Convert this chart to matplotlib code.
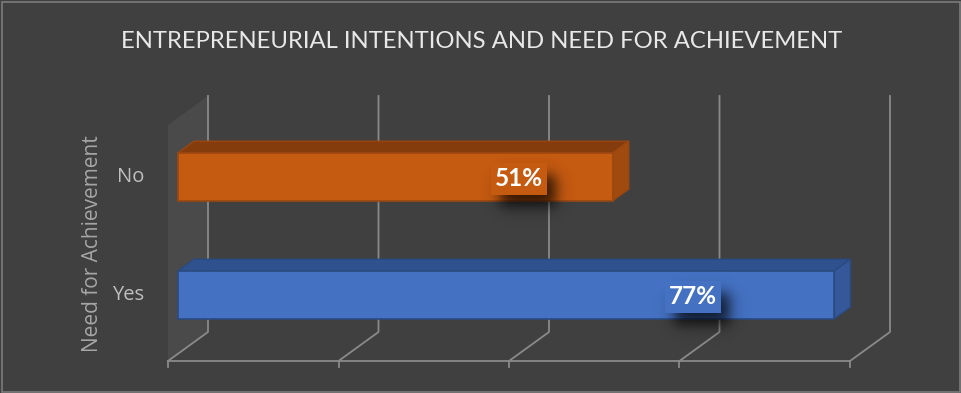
import numpy as np
import matplotlib.pyplot as plt
from matplotlib.patches import Polygon, Rectangle

categories = ['Yes', 'No']
shares = [0.77, 0.51]
label_text = ['77%', '51%']
tick_values = [0.0, 0.2, 0.4, 0.6, 0.8]
title = 'ENTREPRENEURIAL INTENTIONS AND NEED FOR ACHIEVEMENT'
axis_label = 'Need for Achievement'

BG = '#404040'
GRID = '#8a8a8a'
faces = {
    'Yes': dict(front='#4471c2', top='#2f528f', side='#34589a', edge='#2a4a80'),
    'No': dict(front='#c55a11', top='#843c0c', side='#a14a0f', edge='#9a4710'),
}

W, H = 962, 393
fig = plt.figure(figsize=(W / 100, H / 100), dpi=100, facecolor=BG)
fig.patches.append(Rectangle((1.5 / W, 1.5 / H), (W - 3) / W, (H - 3) / H,
                             transform=fig.transFigure, fill=False,
                             edgecolor='#7b7b7b', lw=1.2))

# plot box = front edge of the floor (x) and back wall height (y), in pixels
ax = fig.add_axes([168 / W, 32 / H, 682 / W, 266 / H])
ax.set_xlim(0, 0.8)
ax.set_ylim(0, 1)
ax.axis('off')
PX = 0.8 / 682   # data units per pixel, x
PY = 1 / 266     # data units per pixel, y

# 3D look: depth d in [0, 1] shifts points right and up
DX = 40 * PX
DY = 29 * PY
WALL_H = 236 * PY


def proj(x, y, d):
    return (x + d * DX, y + d * DY)


def poly(pts, **kw):
    p = Polygon(pts, closed=True, clip_on=False, **kw)
    ax.add_patch(p)
    return p


# left side wall
poly([proj(0, 0, 0), proj(0, WALL_H, 0), proj(0, WALL_H, 1), proj(0, 0, 1)],
     facecolor='#4b4a4a', edgecolor='none', zorder=1)

# gridlines on back wall and floor, ticks on the front edge
for v in tick_values:
    xs, ys = zip(proj(v, 0, 0), proj(v, 0, 1), proj(v, WALL_H, 1))
    ax.plot(xs, ys, color=GRID, lw=1.3, clip_on=False, zorder=2)
    ax.plot([v, v], [0, -6 * PY], color=GRID, lw=1.3, clip_on=False, zorder=2)
ax.plot([0, 0.8], [0, 0], color=GRID, lw=1.3, clip_on=False, zorder=2)


def soft_shadow(cx, cy, wpx, hpx, blur, z):
    # blurred dark box (sizes in pixels) behind a data label
    pad = 3 * blur
    gx = np.linspace(-(wpx / 2 + pad), wpx / 2 + pad, 120)
    gy = np.linspace(-(hpx / 2 + pad), hpx / 2 + pad, 80)
    fx = 1 / (1 + np.exp((np.abs(gx) - wpx / 2) / (blur / 1.7)))
    fy = 1 / (1 + np.exp((np.abs(gy) - hpx / 2) / (blur / 1.7)))
    img = np.zeros((len(gy), len(gx), 4))
    img[..., 3] = np.outer(fy, fx) * 0.75
    ax.imshow(img, extent=(cx - (wpx / 2 + pad) * PX, cx + (wpx / 2 + pad) * PX,
                           cy - (hpx / 2 + pad) * PY, cy + (hpx / 2 + pad) * PY),
              aspect='auto', zorder=z, interpolation='bilinear', clip_on=False)


band = WALL_H / len(categories)
bar_h = 0.18
d0, d1 = 0.25, 0.65
box_w, box_h = 56, 32
for i, (cat, v, lab) in enumerate(zip(categories, shares, label_text)):
    c = faces[cat]
    yc = (i + 0.5) * band
    y0, y1 = yc - bar_h / 2, yc + bar_h / 2
    z = 5 + i
    poly([proj(0, y1, d0), proj(v, y1, d0), proj(v, y1, d1), proj(0, y1, d1)],
         facecolor=c['top'], edgecolor=c['edge'], lw=1, zorder=z)
    poly([proj(v, y0, d0), proj(v, y0, d1), proj(v, y1, d1), proj(v, y1, d0)],
         facecolor=c['side'], edgecolor=c['edge'], lw=1, zorder=z)
    poly([proj(0, y0, d0), proj(v, y0, d0), proj(v, y1, d0), proj(0, y1, d0)],
         facecolor=c['front'], edgecolor=c['edge'], lw=1.2, zorder=z)

    # data label with its drop shadow
    lx, ly = proj(0.785 * v, yc, d0)
    ly -= 2 * PY
    soft_shadow(lx + 9 * PX, ly - 12 * PY, box_w, box_h, 7, z + 0.1)
    ax.add_patch(Rectangle((lx - box_w / 2 * PX, ly - box_h / 2 * PY),
                           box_w * PX, box_h * PY,
                           facecolor=c['front'], edgecolor='none',
                           zorder=z + 0.2, clip_on=False))
    ax.text(lx, ly, lab, color='white', fontsize=17.5, fontweight='bold',
            family='Lato', ha='center', va='center', zorder=z + 0.3)

    # category label
    ax.text(-0.028, proj(0, yc, d0)[1], cat, color='#bfbfbf', fontsize=14.5,
            family='Open Sans', ha='right', va='center')

fig.text(92 / W, 1 - 244 / H, axis_label, rotation=90, color='#a6a6a6',
         fontsize=15, family='Open Sans', ha='center', va='center')
fig.text(482 / W, 1 - 41 / H, title, color='#e8e8e8', fontsize=17.2,
         family='Lato', ha='center', va='center')

fig.savefig('out.png', dpi=100, facecolor=BG)
